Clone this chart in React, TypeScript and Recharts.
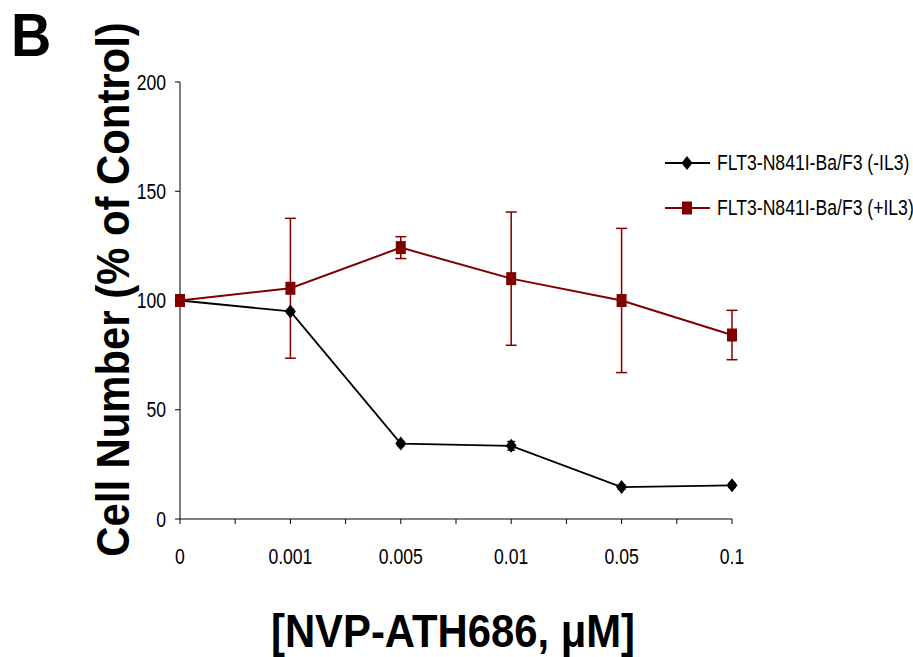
import { LineChart, Line, XAxis, YAxis, ErrorBar, Legend, Label } from 'recharts';

// Cell number (% of control) vs NVP-ATH686 dose
const doses = ['0', '0.001', '0.005', '0.01', '0.05', '0.1'];
const minusIL3 = [100, 95, 34.5, 33.5, 14.6, 15.4];
const minusIL3Err = [0, 1, 1, 2, 1, 1];
const plusIL3 = [100, 105.6, 124.2, 110, 100, 84.2];
const plusIL3Err = [0, 32, 5, 30.5, 33, 11.3];
const seriesNames = ['FLT3-N841I-Ba/F3 (-IL3)', 'FLT3-N841I-Ba/F3 (+IL3)'];
const yTicks = [0, 50, 100, 150, 200];
// major ticks at each dose, minor ticks halfway between
const xTicks = [0, 0.5, 1, 1.5, 2, 2.5, 3, 3.5, 4, 4.5, 5];

const BLACK = '#000000';
const RED = '#800000';
const FONT = "'Liberation Sans', Arial, Helvetica, sans-serif";
const NARROW = 0.8;
const TICK_SIZE = 22;

const data = doses.map((dose, i) => ({
  idx: i,
  dose,
  minus: minusIL3[i],
  minusErr: minusIL3Err[i],
  plus: plusIL3[i],
  plusErr: plusIL3Err[i],
}));

const Diamond = ({ cx, cy, fill }: any) => (
  <polygon
    points={`${cx},${cy - 7} ${cx + 5.5},${cy} ${cx},${cy + 7} ${cx - 5.5},${cy}`}
    fill={fill}
  />
);

const Square = ({ cx, cy, fill }: any) => (
  <rect x={cx - 5} y={cy - 6.5} width={10} height={13} fill={fill} />
);

const XTick = ({ x, y, payload }: any) => {
  const v = payload.value;
  const label = Number.isInteger(v) ? doses[v] : '';
  return (
    <g transform={`translate(${x},${y})`}>
      <text
        transform={`scale(${NARROW},1)`}
        textAnchor="middle"
        dominantBaseline="central"
        dy={30}
        fontSize={TICK_SIZE}
        fontFamily={FONT}
        fill="#000"
      >
        {label}
      </text>
    </g>
  );
};

const YTick = ({ x, y, payload }: any) => (
  <g transform={`translate(${x},${y})`}>
    <text
      transform={`scale(${NARROW},1)`}
      textAnchor="end"
      dominantBaseline="central"
      fontSize={TICK_SIZE}
      fontFamily={FONT}
      fill="#000"
    >
      {payload.value}
    </text>
  </g>
);

const YTitle = ({ viewBox }: any) => {
  const cx = viewBox.x + 53;
  const cy = viewBox.y + viewBox.height / 2 - 11;
  return (
    <text
      transform={`translate(${cx},${cy}) rotate(-90) scale(0.89,1)`}
      textAnchor="middle"
      dominantBaseline="central"
      fontSize={47}
      fontWeight="bold"
      fontFamily={FONT}
      fill="#000"
    >
      Cell Number (% of Control)
    </text>
  );
};

const XTitle = ({ viewBox }: any) => {
  const cx = viewBox.x + viewBox.width / 2 - 3;
  const cy = viewBox.y + 112;
  return (
    <text
      transform={`translate(${cx},${cy}) scale(0.89,1)`}
      textAnchor="middle"
      dominantBaseline="central"
      fontSize={47}
      fontWeight="bold"
      fontFamily={FONT}
      fill="#000"
    >
      [NVP-ATH686, μM]
    </text>
  );
};

const renderLegend = () => {
  const colors = [BLACK, RED];
  return (
    <div style={{ fontFamily: FONT }}>
      {seriesNames.map((name, i) => (
        <div key={name} style={{ display: 'flex', alignItems: 'center', height: 45 }}>
          <svg width={46} height={20} style={{ flexShrink: 0 }}>
            <line x1={0} y1={10} x2={45} y2={10} stroke={colors[i]} strokeWidth={2} />
            {i === 0 ? (
              <Diamond cx={22} cy={10} fill={colors[i]} />
            ) : (
              <Square cx={22} cy={10} fill={colors[i]} />
            )}
          </svg>
          <span
            style={{
              display: 'inline-block',
              marginLeft: 6,
              fontSize: TICK_SIZE,
              whiteSpace: 'nowrap',
              transform: `scaleX(${NARROW})`,
              transformOrigin: 'left center',
              color: '#000',
            }}
          >
            {name}
          </span>
        </div>
      ))}
    </div>
  );
};

export default function App() {
  return (
    <div style={{ position: 'absolute', left: 0, top: 0, width: 913, height: 657, background: '#fff' }}>
      <div
        style={{
          position: 'absolute',
          left: 11,
          top: 4,
          fontFamily: FONT,
          fontWeight: 'bold',
          fontSize: 62,
          transform: 'scaleX(0.9)',
          transformOrigin: 'left top',
          lineHeight: 1,
        }}
      >
        B
      </div>
      <LineChart
        width={913}
        height={657}
        data={data}
        margin={{ top: 82, right: 181, bottom: 8, left: 60 }}
      >
        <XAxis
          dataKey="idx"
          type="number"
          domain={[0, 5]}
          ticks={xTicks}
          interval={0}
          stroke="#000"
          tickSize={5}
          tickMargin={2}
          tick={<XTick />}
          height={130}
          allowDecimals
        >
          <Label content={<XTitle />} />
        </XAxis>
        <YAxis
          type="number"
          domain={[0, 200]}
          ticks={yTicks}
          interval={0}
          stroke="#000"
          tickSize={5}
          tickMargin={9}
          tick={<YTick />}
          width={120}
        >
          <Label content={<YTitle />} />
        </YAxis>
        <Legend
          layout="vertical"
          align="center"
          verticalAlign="middle"
          content={renderLegend}
          wrapperStyle={{ left: 665, top: 140, width: 248 }}
        />
        <Line
          type="linear"
          dataKey="minus"
          name={seriesNames[0]}
          stroke={BLACK}
          strokeWidth={1.8}
          dot={(p: any) => <Diamond key={`d${p.index}`} cx={p.cx} cy={p.cy} fill={BLACK} />}
          activeDot={false}
          isAnimationActive={false}
        >
          <ErrorBar dataKey="minusErr" direction="y" width={4} stroke={BLACK} strokeWidth={1.2} />
        </Line>
        <Line
          type="linear"
          dataKey="plus"
          name={seriesNames[1]}
          stroke={RED}
          strokeWidth={2}
          dot={(p: any) => <Square key={`s${p.index}`} cx={p.cx} cy={p.cy} fill={RED} />}
          activeDot={false}
          isAnimationActive={false}
        >
          <ErrorBar dataKey="plusErr" direction="y" width={5.5} stroke={RED} strokeWidth={1.5} />
        </Line>
      </LineChart>
    </div>
  );
}
